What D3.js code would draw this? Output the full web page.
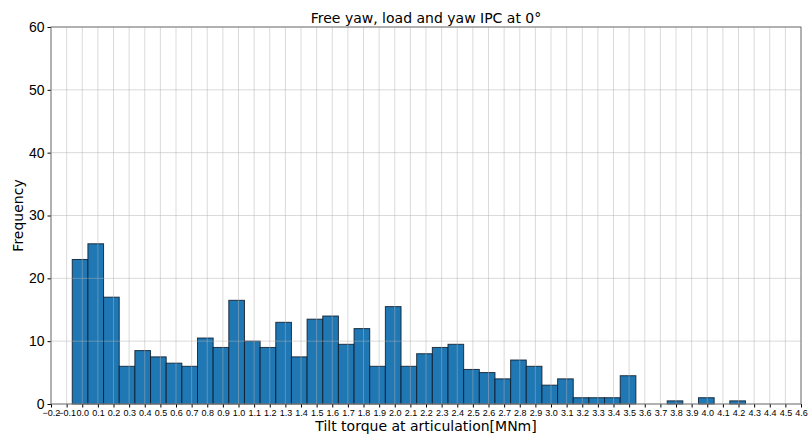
<!DOCTYPE html>
<html>
<head>
<meta charset="utf-8">
<script src="https://cdn.jsdelivr.net/npm/d3@7"></script>
<style>
  body { margin: 0; background: #fff; }
  svg { display: block; font-family: "DejaVu Sans", sans-serif; }
</style>
</head>
<body>
<svg id="chart" width="809" height="437"></svg>
<script>
// Histogram of tilt torque: bins start at binStart, each binWidth wide
const binStart = -0.064;
const binWidth = 0.1002;
const frequencies = [
  23, 25.5, 17, 6, 8.5, 7.5, 6.5, 6, 10.5, 9,
  16.5, 10, 9, 13, 7.5, 13.5, 14, 9.5, 12, 6,
  15.5, 6, 8, 9, 9.5, 5.5, 5, 4, 7, 6,
  3, 4, 1, 1, 1, 4.5, 0, 0, 0.5, 0,
  1, 0, 0.5
];
const xTicks = d3.range(-2, 47).map(i => i / 10);
const yTicks = [0, 10, 20, 30, 40, 50, 60];
const titleText = "Free yaw, load and yaw IPC at 0°";
const xLabel = "Tilt torque at articulation[MNm]";
const yLabel = "Frequency";

const bins = frequencies.map((f, i) => ({
  x0: binStart + i * binWidth,
  x1: binStart + (i + 1) * binWidth,
  value: f
}));

const margin = { left: 51, right: 8, top: 27, bottom: 33 };
const W = 809, H = 437;
const svg = d3.select("#chart");

const x = d3.scaleLinear().domain([-0.2, 4.6]).range([margin.left, W - margin.right]);
const y = d3.scaleLinear().domain([0, 60]).range([H - margin.bottom, margin.top]);

// bars
svg.append("g").selectAll("rect")
  .data(bins.filter(b => b.value > 0))
  .join("rect")
  .attr("x", d => x(d.x0))
  .attr("y", d => y(d.value))
  .attr("width", d => x(d.x1) - x(d.x0))
  .attr("height", d => y(0) - y(d.value))
  .attr("fill", "#1f77b4")
  .attr("stroke", "#0d1b2a")
  .attr("stroke-opacity", 0.85)
  .attr("stroke-width", 1);

// grid drawn above the bars
const grid = svg.append("g").attr("stroke", "#b0b0b0").attr("stroke-opacity", 0.6).attr("stroke-width", 0.8);
grid.selectAll("line.v").data(xTicks).join("line")
  .attr("class", "v")
  .attr("x1", d => x(d)).attr("x2", d => x(d))
  .attr("y1", y(0)).attr("y2", y(60));
grid.selectAll("line.h").data(yTicks).join("line")
  .attr("class", "h")
  .attr("x1", x(-0.2)).attr("x2", x(4.6))
  .attr("y1", d => y(d)).attr("y2", d => y(d));

// axes
const xAxis = svg.append("g")
  .attr("transform", `translate(0,${y(0)})`)
  .call(d3.axisBottom(x).tickValues(xTicks).tickFormat(d3.format(".1f")).tickSizeOuter(0).tickSize(3.5).tickPadding(2));
xAxis.selectAll("text").attr("font-size", 9).attr("fill", "#000")
  .text(d => d < 0 ? "\u2212" + Math.abs(d).toFixed(1) : d.toFixed(1));
xAxis.selectAll("line").attr("stroke", "#000");
xAxis.select(".domain").remove();

const yAxis = svg.append("g")
  .attr("transform", `translate(${x(-0.2)},0)`)
  .call(d3.axisLeft(y).tickValues(yTicks).tickFormat(d3.format("d")).tickSizeOuter(0).tickSize(3.5).tickPadding(3));
yAxis.selectAll("text").attr("font-size", 14).attr("fill", "#000");
yAxis.selectAll("line").attr("stroke", "#000");
yAxis.select(".domain").remove();

// frame
svg.append("rect")
  .attr("x", x(-0.2)).attr("y", y(60))
  .attr("width", x(4.6) - x(-0.2)).attr("height", y(0) - y(60))
  .attr("fill", "none").attr("stroke", "#777").attr("stroke-width", 1);

// labels
svg.append("text")
  .attr("x", (x(-0.2) + x(4.6)) / 2).attr("y", 22.5)
  .attr("text-anchor", "middle").attr("font-size", 14)
  .text(titleText);
svg.append("text")
  .attr("x", (x(-0.2) + x(4.6)) / 2).attr("y", 431)
  .attr("text-anchor", "middle").attr("font-size", 14)
  .text(xLabel);
svg.append("text")
  .attr("transform", `translate(23,${(y(0) + y(60)) / 2}) rotate(-90)`)
  .attr("text-anchor", "middle").attr("font-size", 14)
  .text(yLabel);
</script>
</body>
</html>
